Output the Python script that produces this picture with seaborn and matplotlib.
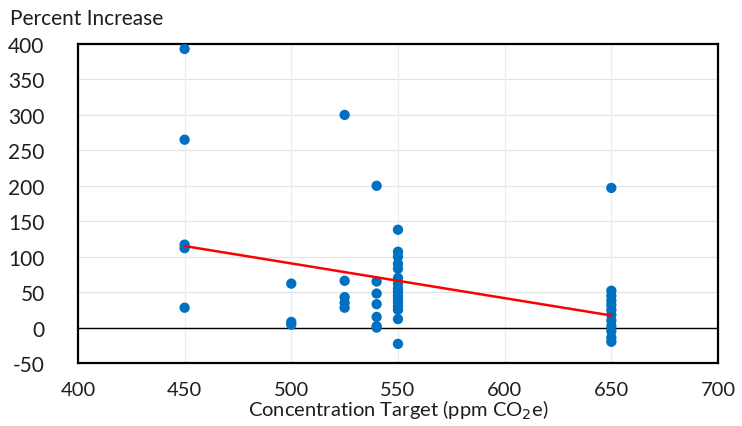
import matplotlib
matplotlib.use("Agg")
import matplotlib.pyplot as plt
import seaborn as sns
import numpy as np
import pandas as pd

# Data
x_450 = [450, 450, 450, 450, 450]
y_450 = [393, 265, 117, 112, 28]
x_500 = [500, 500, 500]
y_500 = [62, 8, 4]
x_525 = [525, 525, 525, 525, 525]
y_525 = [300, 66, 43, 35, 28]
x_540 = [540] * 7
y_540 = [200, 65, 48, 33, 15, 2, 0]
x_550 = [550] * 16
y_550 = [138, 107, 100, 90, 83, 70, 62, 50, 45, 40, 35, 30, 25, 12, -23, 55]
x_650 = [650] * 12
y_650 = [197, 52, 45, 38, 32, 25, 18, 10, 2, -5, -14, -20]

trend_x = [450, 650]
trend_y = [115, 17]

x_ticks = [400, 450, 500, 550, 600, 650, 700]
y_ticks = [-50, 0, 50, 100, 150, 200, 250, 300, 350, 400]

df = pd.DataFrame({
    "x": x_450 + x_500 + x_525 + x_540 + x_550 + x_650,
    "y": y_450 + y_500 + y_525 + y_540 + y_550 + y_650,
})
trend = pd.DataFrame({"x": trend_x, "y": trend_y})

sns.set_style("white")
plt.rcParams['font.family'] = ['Lato', 'DejaVu Sans']
plt.rcParams['axes.unicode_minus'] = False
TXT = "#1e1e1e"

fig = plt.figure(figsize=(7.42, 4.27), dpi=100)
ax = fig.add_axes([0.105, 0.1475, 0.8627, 0.7471])

for v in y_ticks:
    ax.axhline(v, color="#E3E3E3", lw=0.9, zorder=0)
for v in x_ticks[1:-1]:
    ax.axvline(v, color="#EDEDED", lw=0.9, zorder=0)
ax.axhline(0, color="black", lw=1.0, zorder=1)

sns.scatterplot(data=df, x="x", y="y", ax=ax, color="#0070C0", s=55,
                edgecolor="none", zorder=3, legend=False)
sns.lineplot(data=trend, x="x", y="y", ax=ax, color="#FF0000", lw=1.8, zorder=4)

ax.set_xlim(400, 700)
ax.set_ylim(-50, 400)
ax.set_xticks(x_ticks)
ax.set_yticks(y_ticks)
ax.tick_params(axis="both", length=0, labelsize=15, colors=TXT)
ax.tick_params(axis="x", labelsize=14.5, pad=13)
ax.tick_params(axis="y", pad=24)
for lab in ax.get_yticklabels():
    lab.set_horizontalalignment("right")
for s in ax.spines.values():
    s.set_visible(True)
    s.set_color("black")
    s.set_linewidth(1.6)

ax.set_xlabel("Concentration Target (ppm CO$_2$e)", fontsize=14.5, labelpad=0, color=TXT)
ax.set_ylabel("")
fig.text(0.013, 0.955, "Percent Increase", fontsize=15, ha="left", va="center", color=TXT)

fig.savefig("out.png", dpi=100)
